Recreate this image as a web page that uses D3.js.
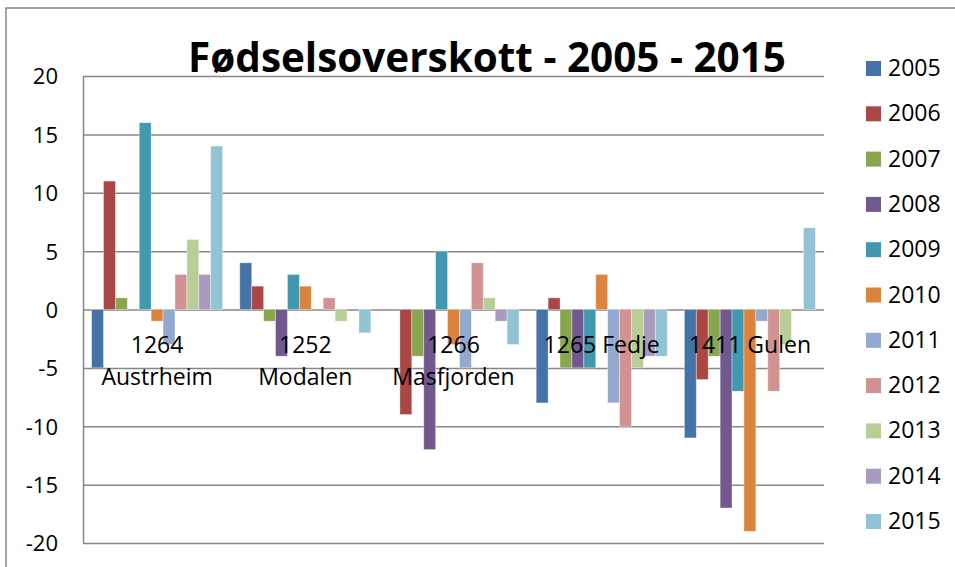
<!DOCTYPE html>
<html>
<head>
<meta charset="utf-8">
<script src="https://cdn.jsdelivr.net/npm/d3@7"></script>
<style>
    body { margin: 0; background: #fff; }
    text { font-family: "Open Sans", "Noto Sans", sans-serif; fill: #000; }
</style>
</head>
<body>
<script>
    // kommunar og år
    var categories = ["1264 Austrheim", "1252 Modalen", "1266 Masfjorden", "1265 Fedje", "1411 Gulen"];
    var years = ["2005", "2006", "2007", "2008", "2009", "2010", "2011", "2012", "2013", "2014", "2015"];
    var colors = ["#4572A7", "#AA4643", "#89A54E", "#71588F", "#4198AF", "#DB843D",
                  "#93A9CF", "#D19392", "#B9CD96", "#A99BBD", "#92C3D4"];
    var yTicks = [20, 15, 10, 5, 0, -5, -10, -15, -20];

    // fødselsoverskott per år, ein rad per kommune
    var austrheim  = [-5, 11, 1, 0, 16, -1, -3, 3, 6, 3, 14];
    var modalen    = [4, 2, -1, -4, 3, 2, 0, 1, -1, 0, -2];
    var masfjorden = [0, -9, -4, -12, 5, -3, -5, 4, 1, -1, -3];
    var fedje      = [-8, 1, -5, -5, -5, 3, -8, -10, -5, -4, -4];
    var gulen      = [-11, -6, -4, -17, -7, -19, -1, -7, -3, 0, 7];
    var values = [austrheim, modalen, masfjorden, fedje, gulen];

    var W = 955, H = 567;
    var plot = { left: 83, right: 824, top: 76, bottom: 543 };
    var grey = "#878787";

    var svg = d3.select("body").append("svg").attr("width", W).attr("height", H);

    // ytre ramme
    svg.append("rect").attr("x", 6).attr("y", 8).attr("width", W + 10).attr("height", H + 10)
        .attr("fill", "none").attr("stroke", grey).attr("stroke-width", 1.5);

    var y = d3.scaleLinear().domain([-20, 20]).range([plot.bottom, plot.top]);
    var x0 = d3.scaleBand().domain(categories).range([plot.left, plot.right]);
    var gap = x0.bandwidth() * 0.116 / 2;
    var x1 = d3.scaleBand().domain(years).range([gap, x0.bandwidth() - gap]);

    // rutenett
    var yAxis = d3.axisLeft(y).tickValues(yTicks).tickSize(-(plot.right - plot.left)).tickSizeOuter(0)
        .tickPadding(25).tickFormat(function (d) { return String(d); });
    var gy = svg.append("g").attr("transform", "translate(" + plot.left + ",0)").call(yAxis);
    gy.select(".domain").attr("stroke", grey).attr("stroke-width", 1.5);
    gy.selectAll(".tick line").attr("stroke", grey).attr("stroke-width", 1.5);
    gy.selectAll(".tick text").style("font-size", "22px").attr("dy", "0.36em");

    // søyler
    var groups = svg.append("g").selectAll("g").data(categories).join("g")
        .attr("transform", function (d) { return "translate(" + x0(d) + ",0)"; });

    groups.selectAll("rect")
        .data(function (d, i) {
            return values[i].map(function (v, j) { return { year: years[j], value: v, color: colors[j] }; });
        })
        .join("rect")
        .attr("x", function (d) { return x1(d.year); })
        .attr("width", x1.bandwidth())
        .attr("y", function (d) { return y(Math.max(0, d.value)); })
        .attr("height", function (d) { return Math.abs(y(d.value) - y(0)); })
        .attr("fill", function (d) { return d.color; })
        .attr("stroke", "rgba(255,255,255,0.45)")
        .attr("stroke-width", 0.8);

    // kategorinamn (ligg oppå søylene, som i Excel)
    var labels = svg.append("g");
    categories.forEach(function (c) {
        var t = labels.append("text").attr("text-anchor", "middle").style("font-size", "23px")
            .attr("x", x0(c) + x0.bandwidth() / 2).attr("y", 353).text(c);
        if (t.node().getComputedTextLength() > x0.bandwidth()) {
            var words = c.split(" ");
            t.text(null);
            words.forEach(function (w, i) {
                t.append("tspan").attr("x", x0(c) + x0.bandwidth() / 2).attr("dy", i === 0 ? 0 : 32).text(w);
            });
        }
    });

    // tittel
    var title = svg.append("text").attr("text-anchor", "middle").attr("x", 487).attr("y", 72)
        .style("font-size", "40px").style("font-weight", "bold").text("Fødselsoverskott - 2005 - 2015");
    var tw = title.node().getComputedTextLength();
    title.style("font-size", (40 * 598 / tw) + "px");

    // forklaring
    var legend = svg.append("g").selectAll("g").data(years).join("g")
        .attr("transform", function (d, i) { return "translate(866," + (76 + i * 45.3) + ")"; });
    legend.append("rect").attr("y", -15).attr("width", 15).attr("height", 15)
        .attr("fill", function (d, i) { return colors[i]; });
    legend.append("text").attr("x", 22).attr("y", 0).style("font-size", "23px").text(function (d) { return d; });
</script>
</body>
</html>
